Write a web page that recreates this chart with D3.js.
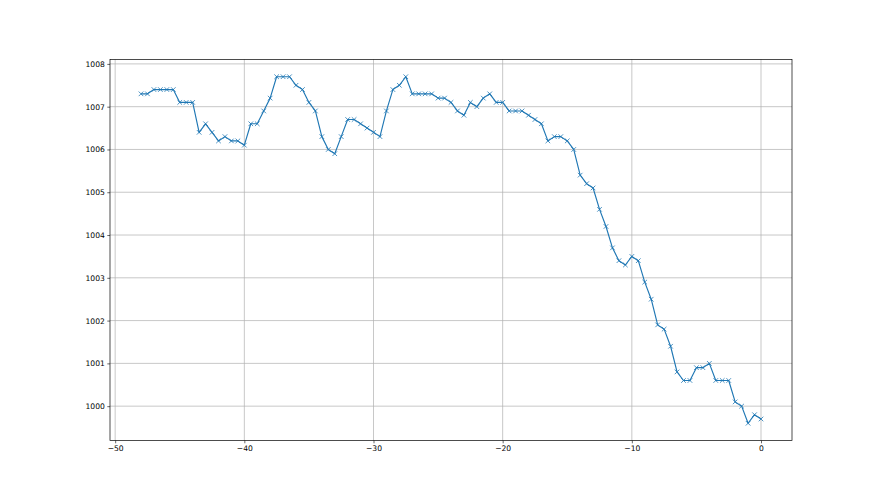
<!DOCTYPE html>
<html>
<head>
<meta charset="utf-8">
<script src="https://cdn.jsdelivr.net/npm/d3@7"></script>
<style>
  body { margin: 0; background: #fff; }
  svg { display: block; }
  .tick text { font-family: "DejaVu Sans", sans-serif; font-size: 7.6px; fill: #000; }
</style>
</head>
<body>
<svg id="render" width="880" height="495"></svg>
<script>
// hours relative to now
const hours = [
  -48, -47.5, -47, -46.5, -46, -45.5, -45, -44.5, -44, -43.5,
  -43, -42.5, -42, -41.5, -41, -40.5, -40, -39.5, -39, -38.5,
  -38, -37.5, -37, -36.5, -36, -35.5, -35, -34.5, -34, -33.5,
  -33, -32.5, -32, -31.5, -31, -30.5, -30, -29.5, -29, -28.5,
  -28, -27.5, -27, -26.5, -26, -25.5, -25, -24.5, -24, -23.5,
  -23, -22.5, -22, -21.5, -21, -20.5, -20, -19.5, -19, -18.5,
  -18, -17.5, -17, -16.5, -16, -15.5, -15, -14.5, -14, -13.5,
  -13, -12.5, -12, -11.5, -11, -10.5, -10, -9.5, -9, -8.5,
  -8, -7.5, -7, -6.5, -6, -5.5, -5, -4.5, -4, -3.5,
  -3, -2.5, -2, -1.5, -1, -0.5, 0
];
// pressure (hPa)
const pressure = [
  1007.3, 1007.3, 1007.4, 1007.4, 1007.4, 1007.4, 1007.1, 1007.1, 1007.1, 1006.4,
  1006.6, 1006.4, 1006.2, 1006.3, 1006.2, 1006.2, 1006.1, 1006.6, 1006.6, 1006.9,
  1007.2, 1007.7, 1007.7, 1007.7, 1007.5, 1007.4, 1007.1, 1006.9, 1006.3, 1006.0,
  1005.9, 1006.3, 1006.7, 1006.7, 1006.6, 1006.5, 1006.4, 1006.3, 1006.9, 1007.4,
  1007.5, 1007.7, 1007.3, 1007.3, 1007.3, 1007.3, 1007.2, 1007.2, 1007.1, 1006.9,
  1006.8, 1007.1, 1007.0, 1007.2, 1007.3, 1007.1, 1007.1, 1006.9, 1006.9, 1006.9,
  1006.8, 1006.7, 1006.6, 1006.2, 1006.3, 1006.3, 1006.2, 1006.0, 1005.4, 1005.2,
  1005.1, 1004.6, 1004.2, 1003.7, 1003.4, 1003.3, 1003.5, 1003.4, 1002.9, 1002.5,
  1001.9, 1001.8, 1001.4, 1000.8, 1000.6, 1000.6, 1000.9, 1000.9, 1001.0, 1000.6,
  1000.6, 1000.6, 1000.1, 1000.0, 999.6, 999.8, 999.7
];
const xTicks = [-50, -40, -30, -20, -10, 0];
const yTicks = [1000, 1001, 1002, 1003, 1004, 1005, 1006, 1007, 1008];

const data = hours.map((h, i) => ({h: h, p: pressure[i]}));

const plotL = 110, plotR = 792, plotT = 59.4, plotB = 440.6;

// matplotlib-like 5% margins
const xExt = d3.extent(hours), yExt = d3.extent(pressure);
const xPad = (xExt[1] - xExt[0]) * 0.05, yPad = (yExt[1] - yExt[0]) * 0.05;
const x = d3.scaleLinear().domain([xExt[0] - xPad, xExt[1] + xPad]).range([plotL, plotR]);
const y = d3.scaleLinear().domain([yExt[0] - yPad, yExt[1] + yPad]).range([plotB, plotT]);

const svg = d3.select("svg#render");
const fmt = d => String(d).replace("-", "\u2212");

// grid
svg.append("g")
    .selectAll("line")
    .data(xTicks)
    .enter()
    .append("line")
    .attr("x1", d => x(d)).attr("x2", d => x(d))
    .attr("y1", plotT).attr("y2", plotB)
    .attr("stroke", "#b0b0b0").attr("stroke-width", 0.7);
svg.append("g")
    .selectAll("line")
    .data(yTicks)
    .enter()
    .append("line")
    .attr("x1", plotL).attr("x2", plotR)
    .attr("y1", d => y(d)).attr("y2", d => y(d))
    .attr("stroke", "#b0b0b0").attr("stroke-width", 0.7);

// line + x markers
const line = d3.line().x(d => x(d.h)).y(d => y(d.p));
svg.append("path")
    .datum(data)
    .attr("d", line)
    .attr("fill", "none")
    .attr("stroke", "#1f77b4")
    .attr("stroke-width", 1.15)
    .attr("stroke-linejoin", "round");

const m = 2.3;
svg.append("g")
    .selectAll("path")
    .data(data)
    .enter()
    .append("path")
    .attr("d", d => `M${x(d.h) - m},${y(d.p) - m}L${x(d.h) + m},${y(d.p) + m}M${x(d.h) - m},${y(d.p) + m}L${x(d.h) + m},${y(d.p) - m}`)
    .attr("stroke", "#1f77b4")
    .attr("stroke-width", 0.8)
    .attr("fill", "none");

// axes
const xAxis = svg.append("g")
    .attr("transform", `translate(0,${plotB})`)
    .call(d3.axisBottom(x).tickValues(xTicks).tickFormat(fmt).tickSize(2.7).tickPadding(2.5).tickSizeOuter(0));
const yAxis = svg.append("g")
    .attr("transform", `translate(${plotL},0)`)
    .call(d3.axisLeft(y).tickValues(yTicks).tickFormat(d => d).tickSize(2.7).tickPadding(2.5).tickSizeOuter(0));
[xAxis, yAxis].forEach(a => {
    a.select(".domain").remove();
    a.selectAll(".tick line").attr("stroke", "#000").attr("stroke-width", 0.6);
});

// spines
svg.append("rect")
    .attr("x", plotL).attr("y", plotT)
    .attr("width", plotR - plotL).attr("height", plotB - plotT)
    .attr("fill", "none")
    .attr("stroke", "#000")
    .attr("stroke-width", 0.7);
</script>
</body>
</html>
